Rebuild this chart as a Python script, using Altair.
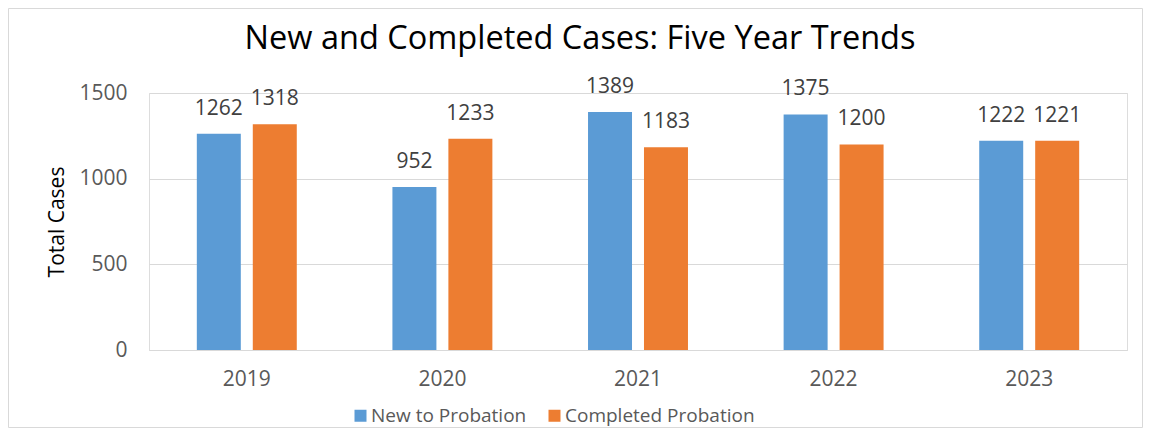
import altair as alt
import pandas as pd

years = ["2019", "2020", "2021", "2022", "2023"]
new_to_probation = [1262, 952, 1389, 1375, 1222]
completed_probation = [1318, 1233, 1183, 1200, 1221]
series_names = ["New to Probation", "Completed Probation"]
colors = ["#5B9BD5", "#ED7D31"]
title_text = "New and Completed Cases: Five Year Trends"

rows = []
for i, y in enumerate(years):
    rows.append({"year": y, "series": series_names[0], "value": new_to_probation[i]})
    rows.append({"year": y, "series": series_names[1], "value": completed_probation[i]})
df = pd.DataFrame(rows)

FONT = "Open Sans"
W, H = 978, 257
PL, PT = 141, 85
SVG_W, SVG_H = 1135, 420

x_enc = alt.X("year:N", sort=years,
              scale=alt.Scale(paddingInner=0.489, paddingOuter=0.2445),
              axis=alt.Axis(title=None, labelAngle=0, labelFontSize=21, labelColor="#595959",
                            labelFont=FONT, ticks=False, domainColor="#d9d9d9",
                            labelPadding=18, grid=False))
xoff_enc = alt.XOffset("series:N", sort=series_names,
                       scale=alt.Scale(paddingInner=0.214, paddingOuter=0))
y_enc = alt.Y("value:Q",
              scale=alt.Scale(domain=[0, 1500], nice=False),
              axis=alt.Axis(title="Total Cases", values=[0, 500, 1000, 1500], format="d",
                            ticks=False, domain=False, gridColor="#d9d9d9", gridWidth=1,
                            labelFontSize=21, labelColor="#595959", labelFont=FONT,
                            labelPadding=22, titleFontSize=21, titleFont=FONT,
                            titleFontWeight="normal", titleColor="#000000", titlePadding=11))

bars = alt.Chart(df).mark_bar().encode(
    x=x_enc,
    xOffset=xoff_enc,
    y=y_enc,
    color=alt.Color("series:N", sort=series_names,
                    scale=alt.Scale(domain=series_names, range=colors),
                    legend=alt.Legend(title=None, orient="none", direction="horizontal",
                                      legendX=202, legendY=313, symbolType="square",
                                      symbolSize=144, symbolStrokeWidth=0,
                                      labelFontSize=19, labelFont=FONT, labelColor="#595959",
                                      labelLimit=400, labelOffset=1, columnPadding=18)),
)

labels = alt.Chart(df).mark_text(baseline="alphabetic", dy=-19, fontSize=21, font=FONT,
                                 color="#404040").encode(
    x=alt.X("year:N", sort=years),
    xOffset=alt.XOffset("series:N", sort=series_names),
    y="value:Q",
    text="value:Q",
)

border = alt.Chart(pd.DataFrame({"a": [0]})).mark_rect(
    fill=None, stroke="#d9d9d9", strokeWidth=1).encode(
    x=alt.value(-PL + 0.5), x2=alt.value(SVG_W - PL - 0.5),
    y=alt.value(-PT + 0.5), y2=alt.value(SVG_H - PT - 0.5),
)

title = alt.Chart(pd.DataFrame({"t": [title_text]})).mark_text(
    fontSize=32.5, font=FONT, color="#000000", align="center", baseline="alphabetic").encode(
    x=alt.value(431), y=alt.value(-44), text="t:N",
)

chart = alt.layer(border, bars, labels, title).properties(
    width=W, height=H,
    autosize=alt.AutoSizeParams(type="none"),
    padding={"left": PL, "top": PT, "right": SVG_W - PL - W, "bottom": SVG_H - PT - H},
).configure_view(stroke=None).configure(background="white")

chart.save("out.html", embed_options={"renderer": "svg", "actions": False})
